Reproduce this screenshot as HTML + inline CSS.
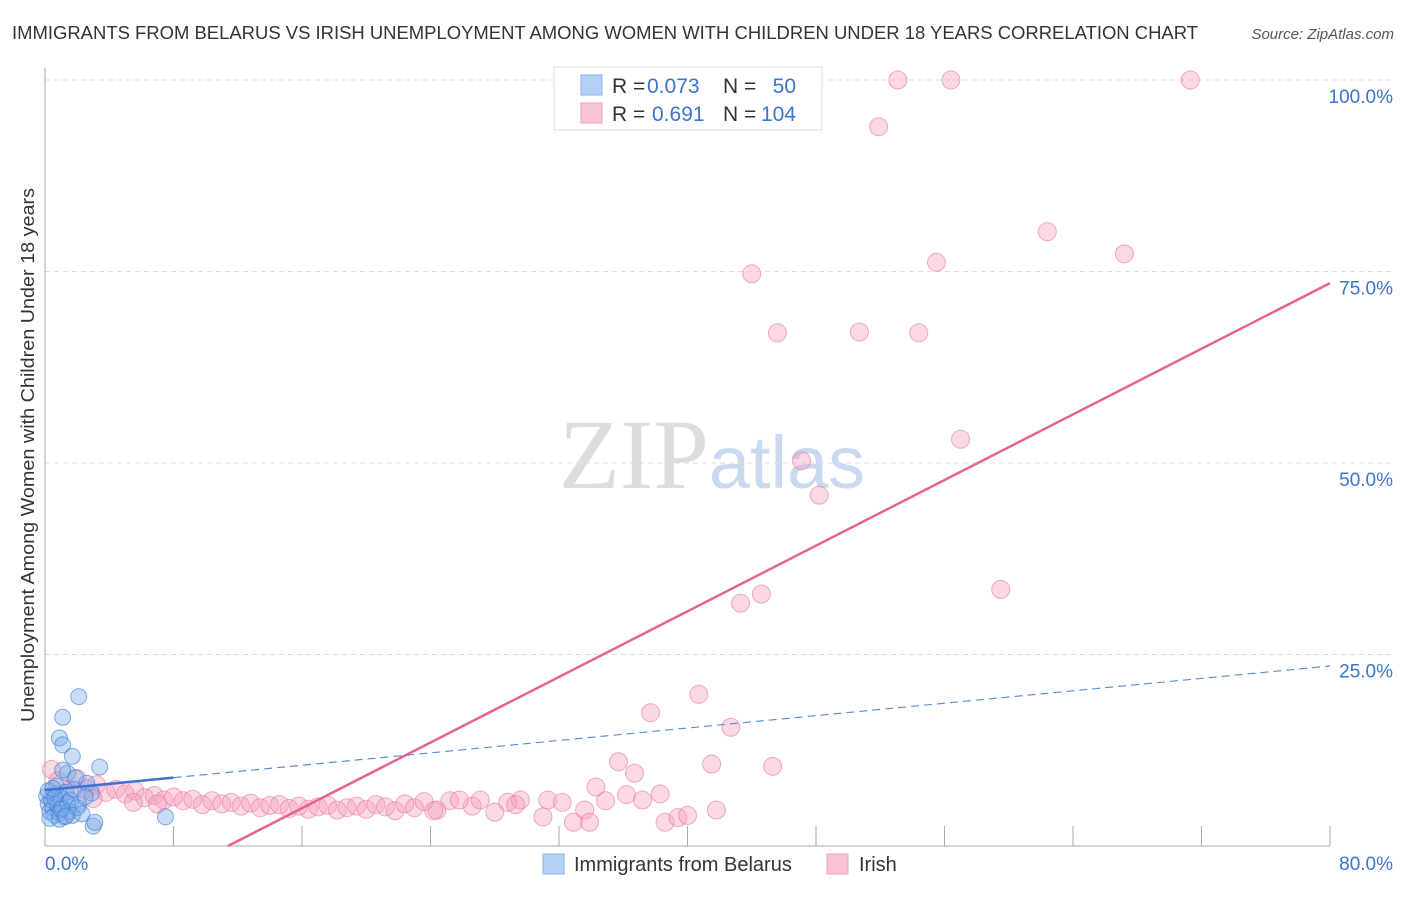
<!DOCTYPE html>
<html><head><meta charset="utf-8"><style>
body{margin:0;background:#fff;width:1406px;height:892px;overflow:hidden;font-family:"Liberation Sans",sans-serif}
</style></head><body>
<svg id="chart" width="1406" height="892" xmlns="http://www.w3.org/2000/svg" font-family="Liberation Sans, sans-serif">
<text x="12" y="39" font-size="18" fill="#333" textLength="1186" lengthAdjust="spacingAndGlyphs">IMMIGRANTS FROM BELARUS VS IRISH UNEMPLOYMENT AMONG WOMEN WITH CHILDREN UNDER 18 YEARS CORRELATION CHART</text>
<text x="1394" y="39" font-size="15" fill="#555" font-style="italic" text-anchor="end">Source: ZipAtlas.com</text>
<text transform="translate(34,455) rotate(-90)" font-size="18" fill="#333" text-anchor="middle" textLength="534" lengthAdjust="spacingAndGlyphs">Unemployment Among Women with Children Under 18 years</text>
<text x="712" y="488" font-size="100" text-anchor="middle" fill="#ddd" font-family="Liberation Serif, serif">ZIP<tspan fill="#c9daf0" font-family="Liberation Sans, sans-serif" font-size="74">atlas</tspan></text>
<g id="grid"></g><g id="axes"></g><g id="pts"></g><g id="lines"></g>
<g>
<rect x="554" y="67" width="268" height="63" fill="#fff" stroke="#ddd"/>
<rect x="581" y="75" width="21" height="20" fill="#b5d0f4" stroke="#8ab2e8"/>
<rect x="581" y="103" width="21" height="20" fill="#f9c3d3" stroke="#f0a0b8"/>
<text x="612" y="93" font-size="21" fill="#333">R =</text>
<text x="647" y="93" font-size="21" fill="#3b74d0">0.073</text>
<text x="723" y="93" font-size="21" fill="#333">N =</text>
<text x="796" y="93" font-size="21" fill="#3b74d0" text-anchor="end">50</text>
<text x="612" y="121" font-size="21" fill="#333">R =</text>
<text x="652" y="121" font-size="21" fill="#3b74d0">0.691</text>
<text x="723" y="121" font-size="21" fill="#333">N =</text>
<text x="796" y="121" font-size="21" fill="#3b74d0" text-anchor="end">104</text>
</g>
<g>
<rect x="543" y="854" width="21" height="20" fill="#b5d0f4" stroke="#8ab2e8"/>
<text x="574" y="871" font-size="20" fill="#333">Immigrants from Belarus</text>
<rect x="827" y="854" width="21" height="20" fill="#f9c3d3" stroke="#f0a0b8"/>
<text x="859" y="871" font-size="20" fill="#333">Irish</text>
</g>
</svg>
<script>
const xTicks=[0,8,16,24,32,40,48,56,64,72,80];
const yTicks=[25,50,75,100];
const yTickLabels=["25.0%","50.0%","75.0%","100.0%"];
const xEndLabels=["0.0%","80.0%"];
const irishPts=[[44.5,100],[53.1,100],[56.4,100],[71.3,100],[51.9,93.9],[62.4,80.2],[55.5,76.2],[67.2,77.3],[44.0,74.7],[45.6,67.0],[50.7,67.1],[54.4,67.0],[57.0,53.1],[47.1,50.3],[48.2,45.8],[59.5,33.5],[43.3,31.7],[44.6,32.9],[40.7,19.8],[37.7,17.4],[42.7,15.5],[35.7,11.0],[41.5,10.7],[45.3,10.4],[36.7,9.5],[34.3,7.7],[38.3,6.8],[36.2,6.7],[37.2,6.0],[34.9,5.9],[31.3,6.0],[32.2,5.7],[33.6,4.7],[29.6,6.0],[28.8,5.7],[29.3,5.4],[31.0,3.8],[32.9,3.1],[33.9,3.1],[38.6,3.1],[39.4,3.7],[40.0,4.0],[41.8,4.7],[26.6,5.2],[27.1,6.0],[25.2,5.9],[24.4,4.7],[25.8,6.0],[28.0,4.4],
[0.4,10],[0.8,8.5],[1.5,7.2],[2,8.8],[2.6,7.5],[3.2,8.0],[3.8,7.0],[4.4,7.4],[5,6.8],[5.6,7.2],[6.2,6.3],[6.8,6.6],[7.4,6.0],[8,6.4],[8.6,5.9],[9.2,6.1],[9.8,5.4],[10.4,5.9],[11,5.5],[11.6,5.7],[12.2,5.2],[12.8,5.6],[13.4,5.0],[14,5.3],[14.6,5.4],[15.2,4.9],[15.8,5.2],[16.4,4.8],[17,5.1],[17.6,5.3],[18.2,4.7],[18.8,5.0],[19.4,5.2],[20,4.8],[20.6,5.4],[21.2,5.1],[21.8,4.6],[22.4,5.5],[23,5.0],[23.6,5.8],[24.2,4.6],[5.5,5.7],[7,5.5],[3,6.2]];
const belarusPts=[[2.1,19.5],[1.1,16.8],[0.9,14.1],[1.1,13.2],[1.7,11.7],[3.4,10.3],[2.6,8.2],[1.4,9.5],[1.1,9.9],[1.9,8.9],[0.7,7.8],[7.5,3.8],[3.0,2.6],[3.1,3.1],[2.9,6.9],[2.1,5.4],
[0.1,6.5],[0.2,5.5],[0.3,4.5],[0.4,6.0],[0.5,5.0],[0.6,4.0],[0.7,6.8],[0.8,5.3],[0.9,4.3],[1.0,6.2],[1.1,5.0],[1.2,3.8],[1.3,7.0],[1.4,5.6],[1.5,4.5],[0.2,7.2],[0.3,3.6],[0.6,6.3],[0.9,3.5],[1.6,6.0],[1.7,4.0],[1.8,7.4],[2.0,5.0],[2.3,4.2],[2.5,6.4],[0.5,7.5],[1.0,4.8],[1.3,3.9]];
const irishTrend=[-12.2,1.071];
const belarusTrend=[7.3,0.2025];
const X=v=>45+v/80*1285, Y=v=>846-v/100*766;
const NS='http://www.w3.org/2000/svg';
function mk(parent,tag,attrs){const e=document.createElementNS(NS,tag);for(const k in attrs)e.setAttribute(k,attrs[k]);document.getElementById(parent).appendChild(e);return e;}
yTicks.forEach((t,i)=>{
 const l=mk('grid','line',{x1:45,x2:1395,y1:Y(t),y2:Y(t),stroke:'#ddd','stroke-dasharray':'5,4'});
 
 
 const tx=mk('grid','text',{x:1393,y:Y(t)+23,'font-size':19,fill:'#3b74d0','text-anchor':'end'});
 tx.textContent=yTickLabels[i];
 
 
});
const ax=mk('axes','line',{x1:45,x2:1330,y1:846,y2:846,stroke:'#aaa'});


const ay=mk('axes','line',{x1:45,x2:45,y1:68,y2:846,stroke:'#aaa'});


xTicks.slice(1).forEach(t=>{
 const l=mk('axes','line',{x1:X(t),x2:X(t),y1:826,y2:846,stroke:'#aaa'});
 
 
});
[[0,'start',45],[80,'end',1393]].forEach((d,i)=>{
 const tx=mk('axes','text',{x:d[2],y:870,'font-size':19,fill:'#3b74d0','text-anchor':d[1]});
 tx.textContent=xEndLabels[i];
 
 
});
irishPts.forEach(p=>{
 const c=mk('pts','circle',{cx:X(p[0]),cy:Y(p[1]),r:9,fill:'rgba(246,160,186,0.4)',stroke:'rgba(232,120,155,0.6)'});
 
 
});
belarusPts.forEach(p=>{
 const c=mk('pts','circle',{cx:X(p[0]),cy:Y(p[1]),r:8,fill:'rgba(120,170,235,0.4)',stroke:'rgba(60,120,210,0.6)'});
 
 
});
const x0=-irishTrend[0]/irishTrend[1];
const il=mk('lines','line',{x1:X(x0),y1:Y(0),x2:X(80),y2:Y(irishTrend[0]+irishTrend[1]*80),stroke:'#e8628e','stroke-width':2.5});


const bs=mk('lines','line',{x1:X(0),y1:Y(belarusTrend[0]),x2:X(8),y2:Y(belarusTrend[0]+belarusTrend[1]*8),stroke:'#3b74d0','stroke-width':2.5});


const bd=mk('lines','line',{x1:X(8),y1:Y(belarusTrend[0]+belarusTrend[1]*8),x2:X(80),y2:Y(belarusTrend[0]+belarusTrend[1]*80),stroke:'#5a8ad6','stroke-width':1.2,'stroke-dasharray':'8,5'});


</script>
</body></html>
